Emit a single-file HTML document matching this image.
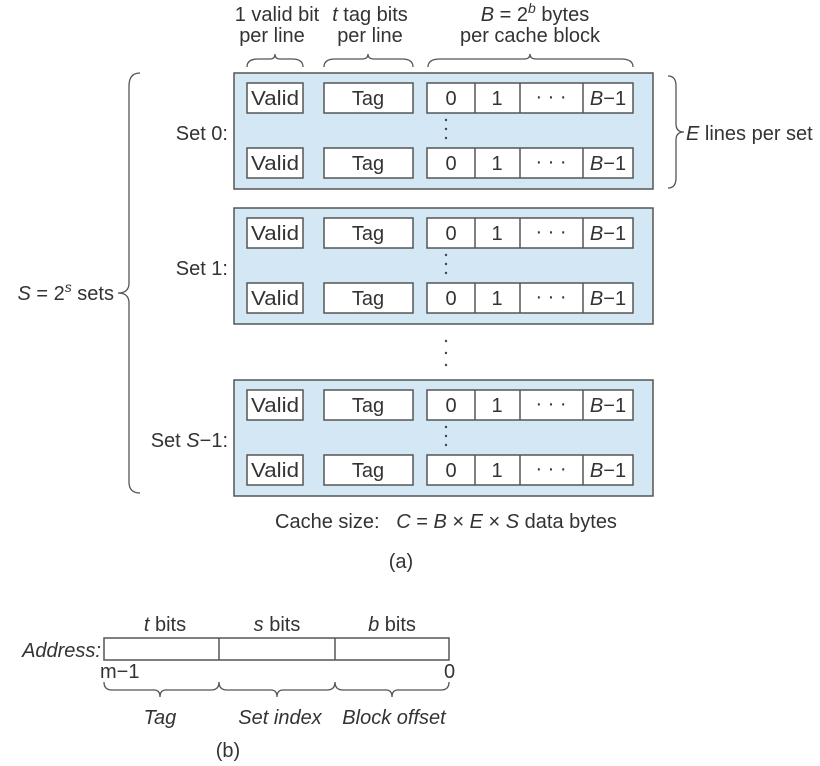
<!DOCTYPE html>
<html><head><meta charset="utf-8"><style>
html,body{margin:0;padding:0;background:#fff;}
svg{display:block;font-family:"Liberation Sans",Arial,sans-serif;}
text{fill:#333;font-size:20px;}
.i{font-style:italic;}
</style></head><body>
<svg width="820" height="766" viewBox="0 0 820 766" xmlns="http://www.w3.org/2000/svg">
<defs>
<g id="row">
<rect x="247" y="0" width="56" height="30" fill="#fff" stroke="#555" stroke-width="1.5"/>
<text x="275" y="22" text-anchor="middle" textLength="48" lengthAdjust="spacingAndGlyphs">Valid</text>
<rect x="324" y="0" width="89" height="30" fill="#fff" stroke="#555" stroke-width="1.5"/>
<text x="368" y="22" text-anchor="middle">Tag</text>
<rect x="427" y="0" width="206" height="30" fill="#fff" stroke="#555" stroke-width="1.5"/>
<line x1="475" y1="0" x2="475" y2="30" stroke="#555" stroke-width="1.5"/>
<line x1="520" y1="0" x2="520" y2="30" stroke="#555" stroke-width="1.5"/>
<line x1="583" y1="0" x2="583" y2="30" stroke="#555" stroke-width="1.5"/>
<text x="451" y="22" text-anchor="middle">0</text>
<text x="497" y="22" text-anchor="middle">1</text>
<text x="551" y="20" text-anchor="middle">· · ·</text>
<text x="608" y="22" text-anchor="middle"><tspan class="i">B</tspan>−1</text>
</g>
<g id="set">
<rect x="234" y="0" width="419" height="116" fill="#d3e8f4" stroke="#555" stroke-width="1.5"/>
<use href="#row" y="10"/>
<use href="#row" y="75"/>
<circle cx="446" cy="47" r="1.2" fill="#444"/>
<circle cx="446" cy="56" r="1.2" fill="#444"/>
<circle cx="446" cy="65" r="1.2" fill="#444"/>
</g>
</defs>
<text x="277" y="21" text-anchor="middle">1 valid bit</text>
<text x="272" y="42" text-anchor="middle">per line</text>
<text x="370" y="21" text-anchor="middle"><tspan class="i">t</tspan> tag bits</text>
<text x="370" y="42" text-anchor="middle">per line</text>
<text x="535" y="21" text-anchor="middle"><tspan class="i">B</tspan> = 2<tspan dy="-8" font-size="14" class="i">b</tspan><tspan dy="8"> bytes</tspan></text>
<text x="530" y="42" text-anchor="middle">per cache block</text>
<g fill="none" stroke="#555" stroke-width="1.3">
<path d="M247,67 Q247,59 258,59 L270,59 Q275,59 275,54 Q275,59 280,59 L292,59 Q303,59 303,67"/>
<path d="M324,67 Q324,59 335,59 L362,59 Q368,59 368,54 Q368,59 374,59 L402,59 Q413,59 413,67"/>
<path d="M428,67 Q428,59 440,59 L524,59 Q530,59 530,54 Q530,59 536,59 L621,59 Q633,59 633,67"/>
<path d="M668,76 Q676,76 676,86 L676,124 Q676,132 684,132 Q676,132 676,140 L676,178 Q676,188 668,188"/>
<path d="M140,73 Q129,73 129,86 L129,283 Q129,293 118,293 Q129,293 129,303 L129,482 Q129,493 140,493"/>
</g>
<use href="#set" y="73"/>
<use href="#set" y="208"/>
<use href="#set" y="380"/>
<circle cx="446" cy="341" r="1.2" fill="#444"/>
<circle cx="446" cy="353" r="1.2" fill="#444"/>
<circle cx="446" cy="365" r="1.2" fill="#444"/>
<text x="228" y="140" text-anchor="end">Set 0:</text>
<text x="228" y="275" text-anchor="end">Set 1:</text>
<text x="228" y="447" text-anchor="end">Set <tspan class="i">S</tspan>−1:</text>
<text x="686" y="140"><tspan class="i">E</tspan> lines per set</text>
<text x="114" y="300" text-anchor="end"><tspan class="i">S</tspan> = 2<tspan dy="-8" font-size="14" class="i">s</tspan><tspan dy="8"> sets</tspan></text>
<text x="446" y="528" text-anchor="middle" xml:space="preserve">Cache size:   <tspan class="i">C</tspan> = <tspan class="i">B</tspan> × <tspan class="i">E</tspan> × <tspan class="i">S</tspan> data bytes</text>
<text x="401" y="568" text-anchor="middle">(a)</text>
<text x="165" y="631" text-anchor="middle"><tspan class="i">t</tspan> bits</text>
<text x="277" y="631" text-anchor="middle"><tspan class="i">s</tspan> bits</text>
<text x="392" y="631" text-anchor="middle"><tspan class="i">b</tspan> bits</text>
<text x="101" y="657" text-anchor="end" class="i">Address:</text>
<rect x="104" y="638" width="345" height="22" fill="#fff" stroke="#555" stroke-width="1.5"/>
<line x1="219" y1="638" x2="219" y2="660" stroke="#555" stroke-width="1.5"/>
<line x1="335" y1="638" x2="335" y2="660" stroke="#555" stroke-width="1.5"/>
<text x="100" y="678" font-size="13">m−1</text>
<text x="444" y="678" font-size="13">0</text>
<g fill="none" stroke="#555" stroke-width="1.3">
<path d="M104,682 Q104,690 112,690 L154,690 Q160,690 160,697 Q160,690 166,690 L211,690 Q219,690 219,682"/>
<path d="M219,682 Q219,690 227,690 L271,690 Q277,690 277,697 Q277,690 283,690 L327,690 Q335,690 335,682"/>
<path d="M335,682 Q335,690 343,690 L386,690 Q392,690 392,697 Q392,690 398,690 L441,690 Q449,690 449,682"/>
</g>
<text x="160" y="724" text-anchor="middle" class="i">Tag</text>
<text x="280" y="724" text-anchor="middle" class="i">Set index</text>
<text x="394" y="724" text-anchor="middle" class="i">Block offset</text>
<text x="228" y="757" text-anchor="middle">(b)</text>
</svg>
</body></html>
